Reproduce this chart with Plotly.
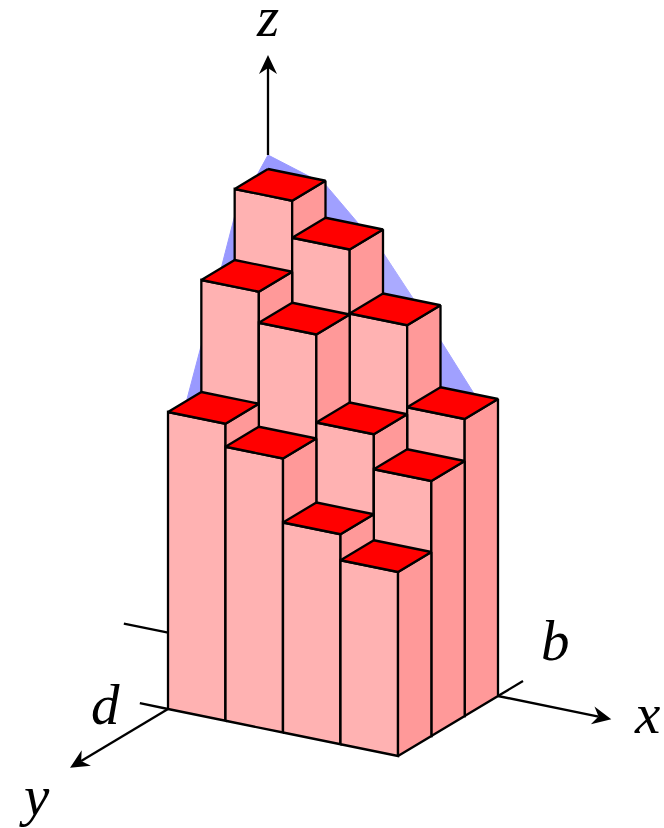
"""Stepped 3D columns under a curved surface, drawn with an oblique projection."""

import math

import plotly.graph_objects as go

# column heights by row, y=0 is the back row, x runs left to right
heights_back = [480, 443, 379, 297]
heights_middle = [409, 378, 290, 255]
heights_front = [297, 274, 210, 184]

# surface heights on the grid corners, x=0..4
surface_y0 = [494, 476, 420, 344, 264]
surface_y1 = [453, 438, 388, 318, 244]
surface_y2 = [344, 332, 294, 241, 185]
surface_y3 = [238, 229, 203, 167, 128]

# blue shades of the surface patches
surface_shades = [
    ["#9999ff", "#a0a0ff", "#aaaaff", "#a0a0ff"],
    ["#9999ff", "#a0a0ff", "#aaaaff", "#a0a0ff"],
    ["#9999ff", "#a0a0ff", "#aaaaff", "#a0a0ff"],
]

FRONT_COLOR = "#ffb2b2"
SIDE_COLOR = "#ff9999"
TOP_COLOR = "#ff0000"
LINE_WIDTH = 2.3

ORIGIN = (268, 649)
X_STEP = (57.5, 11.75)
Y_STEP = (-33.33, 20)

HEAD_LENGTH = 19
HEAD_HALF_WIDTH = 9
HEAD_NOTCH = 13


def project(x, y, z=0):
    return (
        ORIGIN[0] + x * X_STEP[0] + y * Y_STEP[0],
        ORIGIN[1] + x * X_STEP[1] + y * Y_STEP[1] - z,
    )


def add_polygon(fig, corners, fill, line_color="black", width=LINE_WIDTH):
    pts = [project(*c) for c in corners]
    pts.append(pts[0])
    fig.add_trace(
        go.Scatter(
            x=[p[0] for p in pts],
            y=[p[1] for p in pts],
            mode="lines",
            fill="toself",
            fillcolor=fill,
            line=dict(color=line_color, width=width),
            hoverinfo="skip",
        )
    )


def add_line(fig, start, end):
    pts = [project(*start), project(*end)]
    fig.add_trace(
        go.Scatter(
            x=[p[0] for p in pts],
            y=[p[1] for p in pts],
            mode="lines",
            line=dict(color="black", width=LINE_WIDTH),
            hoverinfo="skip",
        )
    )


def add_arrow(fig, start, end):
    x0, y0 = project(*start)
    x1, y1 = project(*end)
    length = math.hypot(x1 - x0, y1 - y0)
    ux, uy = (x1 - x0) / length, (y1 - y0) / length
    # shaft stops inside the notch so it does not poke through the tip
    fig.add_trace(
        go.Scatter(
            x=[x0, x1 - ux * HEAD_NOTCH],
            y=[y0, y1 - uy * HEAD_NOTCH],
            mode="lines",
            line=dict(color="black", width=LINE_WIDTH),
            hoverinfo="skip",
        )
    )
    bx, by = x1 - ux * HEAD_LENGTH, y1 - uy * HEAD_LENGTH
    nx, ny = x1 - ux * HEAD_NOTCH, y1 - uy * HEAD_NOTCH
    fig.add_trace(
        go.Scatter(
            x=[x1, bx - uy * HEAD_HALF_WIDTH, nx, bx + uy * HEAD_HALF_WIDTH, x1],
            y=[y1, by + ux * HEAD_HALF_WIDTH, ny, by - ux * HEAD_HALF_WIDTH, y1],
            mode="lines",
            fill="toself",
            fillcolor="black",
            line=dict(color="black", width=0),
            hoverinfo="skip",
        )
    )


def add_label(fig, text, px, py):
    fig.add_annotation(
        x=px, y=py, xref="x", yref="y", text=text, showarrow=False,
        font=dict(family="Liberation Serif", size=57, style="italic", color="black"),
    )


fig = go.Figure()

# surface goes first, the columns hide most of it
surface = [surface_y0, surface_y1, surface_y2, surface_y3]
for j in range(3):
    for i in range(4):
        shade = surface_shades[j][i]
        add_polygon(
            fig,
            [
                (i, j, surface[j][i]),
                (i + 1, j, surface[j][i + 1]),
                (i + 1, j + 1, surface[j + 1][i + 1]),
                (i, j + 1, surface[j + 1][i]),
            ],
            shade,
            line_color=shade,
            width=1,
        )

# painter's order: back row first, left to right
rows = [heights_back, heights_middle, heights_front]
for j, row in enumerate(rows):
    for i, h in enumerate(row):
        add_polygon(fig, [(i, j + 1, 0), (i + 1, j + 1, 0), (i + 1, j + 1, h), (i, j + 1, h)], FRONT_COLOR)
        add_polygon(fig, [(i + 1, j + 1, 0), (i + 1, j, 0), (i + 1, j, h), (i + 1, j + 1, h)], SIDE_COLOR)
        add_polygon(fig, [(i, j, h), (i + 1, j, h), (i + 1, j + 1, h), (i, j + 1, h)], TOP_COLOR)

# axis stubs
add_line(fig, (-2.42, 0.15), (-1.65, 0.15))
add_line(fig, (-0.49, 3), (0, 3))
add_line(fig, (4, 0), (4, -0.75))

# axes
add_arrow(fig, (0, 0, 494), (0, 0, 594))
add_arrow(fig, (4, 0), (5.97, 0))
add_arrow(fig, (0, 3), (0, 5.94))

add_label(fig, "z", 267, 16)
add_label(fig, "x", 647, 713)
add_label(fig, "b", 555, 640)
add_label(fig, "d", 105, 704)
add_label(fig, "y", 34, 795)

fig.update_layout(
    width=664,
    height=828,
    margin=dict(l=0, r=0, t=0, b=0),
    showlegend=False,
    paper_bgcolor="white",
    plot_bgcolor="white",
    xaxis=dict(visible=False, range=[0, 664], fixedrange=True),
    yaxis=dict(visible=False, range=[828, 0], fixedrange=True),
)

fig.write_html("out.html", config={"displayModeBar": False}, post_script="document.body.style.margin='0';")
